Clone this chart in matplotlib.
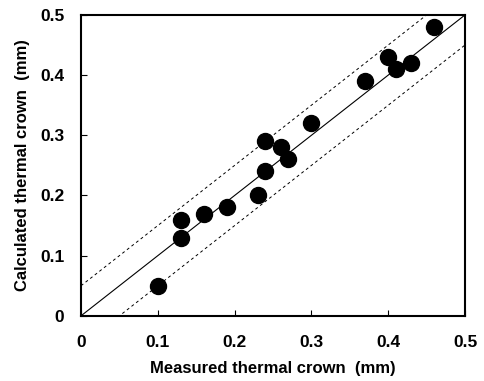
import numpy as np
import matplotlib
matplotlib.use("Agg")
import matplotlib.pyplot as plt

plt.rcParams["font.family"] = ["Liberation Sans", "DejaVu Sans"]
plt.rcParams["font.weight"] = "bold"

measured = [0.10, 0.13, 0.13, 0.16, 0.19, 0.23, 0.24, 0.24, 0.26, 0.27,
            0.30, 0.37, 0.40, 0.41, 0.43, 0.46]
calculated = [0.05, 0.16, 0.13, 0.17, 0.18, 0.20, 0.29, 0.24, 0.28, 0.26,
              0.32, 0.39, 0.43, 0.41, 0.42, 0.48]
band = 0.05
tick_values = [0, 0.1, 0.2, 0.3, 0.4, 0.5]
tick_labels = ["0", "0.1", "0.2", "0.3", "0.4", "0.5"]

fig = plt.figure(figsize=(4.85, 3.81), dpi=100)
ax = fig.add_axes([0.167, 0.171, 0.792, 0.790])

line_x = np.array([0.0, 0.5])
ax.plot(line_x, line_x, color="black", linewidth=0.8)
ax.plot(line_x, line_x + band, color="black", linewidth=0.7,
        linestyle=(0, (3, 3)))
ax.plot(line_x, line_x - band, color="black", linewidth=0.7,
        linestyle=(0, (3, 3)))

ax.plot(measured, calculated, "o", color="black", markersize=11.5,
        clip_on=False, zorder=3)

ax.set_xlim(0, 0.5)
ax.set_ylim(0, 0.5)
ax.set_xticks(tick_values)
ax.set_xticklabels(tick_labels)
ax.set_yticks(tick_values)
ax.set_yticklabels(tick_labels)
ax.tick_params(direction="in", length=4, width=0.8, labelsize=12.5)
ax.tick_params(axis="x", pad=14)
ax.tick_params(axis="y", pad=12)
for spine in ax.spines.values():
    spine.set_linewidth(1.5)

ax.set_xlabel("Measured thermal crown  (mm)", fontsize=12,
              fontweight="bold", labelpad=8)
ax.set_ylabel("Calculated thermal crown  (mm)", fontsize=12,
              fontweight="bold", labelpad=7)

fig.savefig("out.png", dpi=100)
